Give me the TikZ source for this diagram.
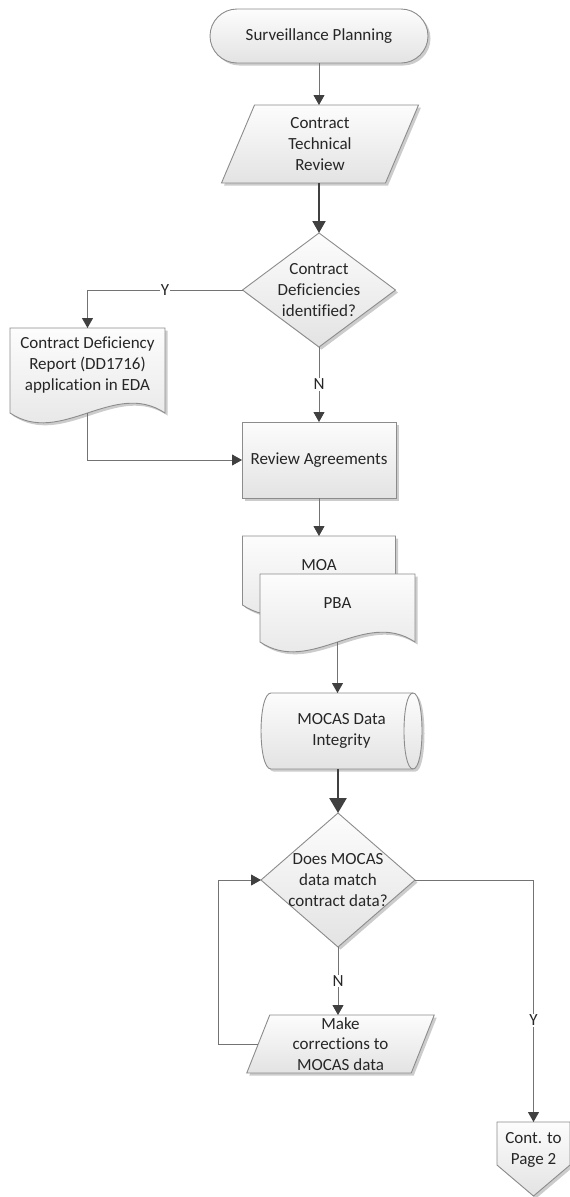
\documentclass[tikz,border=0pt]{standalone}
\usepackage{fontspec}
\setmainfont{Carlito}[Ligatures=CommonOff]
\usetikzlibrary{arrows.meta,shadows,calc,backgrounds}

\tikzset{
  shp/.style={draw=black!45, line width=0.9pt, top color=black!1, bottom color=black!11,
    drop shadow={shadow xshift=2.5pt, shadow yshift=-2.5pt, opacity=0.2, fill=black}},
  txt/.style={font=\fontsize{17}{20.7}\selectfont, text=black!85, align=center, inner sep=0pt, outer sep=0pt},
  con/.style={draw=black!55, line width=0.9pt, -{Triangle[width=11pt,length=10pt,color=black!75]}},
  conmid/.style={draw=black!75, line width=2pt, -{Triangle[width=13pt,length=12pt,color=black!75]}},
  conthick/.style={draw=black!75, line width=2.6pt, -{Triangle[width=17pt,length=15pt,color=black!75]}},
  lbl/.style={fill=white, text=black!85, font=\fontsize{17}{20}\selectfont, inner sep=1pt},
  inarc/.style={draw=black!45, line width=0.9pt},
}

\begin{document}
\begin{tikzpicture}[x=1pt,y=-1pt]
\useasboundingbox (0,0) rectangle (570,1197);
\begin{scope}[on background layer]
  \fill[white] (0,0) rectangle (570,1197);
\end{scope}

% nodes
\node[shp,txt,rounded corners=27pt,minimum width=218pt,minimum height=54pt] (start) at (319,36) {Surveillance Planning};
\node[txt,minimum width=164pt,minimum height=78pt] (ctr) at (320,144) {Contract\\Technical\\Review};
\node[txt,minimum width=153pt,minimum height=114pt] (d1) at (319,290) {Contract\\Deficiencies\\identified?};
\node[txt,minimum width=155pt,minimum height=74pt] (doc) at (87.5,365) {Contract Deficiency\\Report (DD1716)\\application in EDA};
\node[shp,txt,minimum width=154pt,minimum height=76pt] (rev) at (319,460) {Review Agreements};
\node[txt,minimum width=153pt,minimum height=58pt] (moa) at (319,565) {MOA};
\node[txt,minimum width=155pt,minimum height=58pt] (pba) at (337.5,603) {PBA};
\node[txt,minimum width=161pt,minimum height=76pt] (mocas) at (341.5,731) {MOCAS Data\\Integrity};
\node[txt,minimum width=154pt,minimum height=134pt] (d2) at (338,880) {Does MOCAS\\data match\\contract data?};
\node[txt,minimum width=164.5pt,minimum height=58pt] (mc) at (340.5,1044) {Make\\corrections to\\MOCAS data};
\node[txt,minimum width=73pt,minimum height=56pt] (cont) at (533.5,1150) {Cont. to\\Page 2};

% outlines
\begin{scope}[on background layer]
  \path[shp] ($(ctr.north west)+(16.5,0)$) -- ($(ctr.north east)+(16.5,0)$)
     -- ($(ctr.south east)+(-16.5,0)$) -- ($(ctr.south west)+(-16.5,0)$) -- cycle;
  \path[shp] (d1.north) -- (d1.east) -- (d1.south) -- (d1.west) -- cycle;
  \path[shp] (doc.north west) -- (doc.north east) -- ($(doc.south east)+(0,11)$)
     .. controls +(-51,-34) and +(51,34) .. ($(doc.south west)+(0,11)$) -- cycle;
  \path[shp] (moa.north west) -- (moa.north east) -- ($(moa.south east)+(0,11)$)
     .. controls +(-51,-34) and +(51,34) .. ($(moa.south west)+(0,11)$) -- cycle;
  \path[shp] (pba.north west) -- (pba.north east) -- ($(pba.south east)+(0,10)$)
     .. controls +(-51,-34) and +(51,34) .. ($(pba.south west)+(0,10)$) -- cycle;
  \path[shp] ($(mocas.north west)+(10,0)$) -- ($(mocas.north east)+(-9,0)$)
     .. controls +(12,0) and +(12,0) .. ($(mocas.south east)+(-9,0)$)
     -- ($(mocas.south west)+(10,0)$)
     .. controls +(-13.3,0) and +(-13.3,0) .. ($(mocas.north west)+(10,0)$) -- cycle;
  \path[inarc] ($(mocas.north east)+(-9,0)$) .. controls +(-12,0) and +(-12,0) .. ($(mocas.south east)+(-9,0)$);
  \path[shp] (d2.north) -- (d2.east) -- (d2.south) -- (d2.west) -- cycle;
  \path[shp] ($(mc.north west)+(11.5,0)$) -- ($(mc.north east)+(11.5,0)$)
     -- ($(mc.south east)+(-11.5,0)$) -- ($(mc.south west)+(-11.5,0)$) -- cycle;
  \path[shp] (cont.north west) -- (cont.north east) -- ($(cont.north east)+(0,43)$)
     -- ($(cont.north)+(0,74)$) -- ($(cont.north west)+(0,43)$) -- cycle;
\end{scope}

% connectors
\coordinate (docout) at ($(doc.south)+(0,11)$);
\coordinate (pbaout) at ($(pba.south)+(0,10)$);
\coordinate (loop) at (218,1044);

\draw[con] (start.south) -- (start.south |- ctr.north);
\draw[conmid] (d1.north |- ctr.south) -- (d1.north);
\draw[con] (d1.west) -| node[lbl,pos=0.25]{Y} (doc.north);
\draw[con] (d1.south) -- node[lbl]{N} (rev.north);
\draw[con] (docout) |- (rev.west);
\draw[con] (rev.south) -- (moa.north);
\draw[con] (pbaout) -- (pbaout |- mocas.north);
\draw[conthick] (d2.north |- mocas.south) -- (d2.north);
\draw[con] (d2.south) -- node[lbl]{N} (d2.south |- mc.north);
\draw[con] (mc.west) -- (loop) |- (d2.west);
\draw[con] (d2.east) -| node[lbl,pos=0.79]{Y} (cont.north);
\end{tikzpicture}
\end{document}
